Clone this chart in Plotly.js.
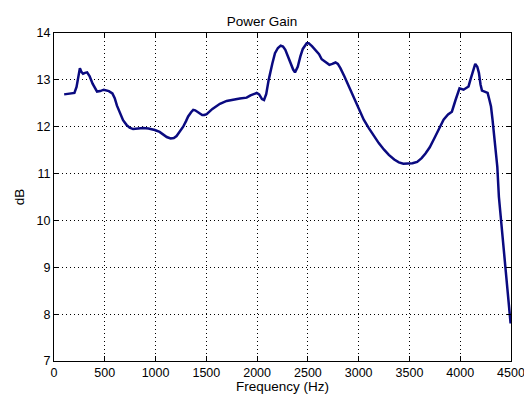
<!DOCTYPE html>
<html>
<head>
<meta charset="utf-8">
<script src="https://cdn.plot.ly/plotly-3.0.1.min.js"></script>
<style>html,body{margin:0;padding:0;background:#fff;}#chart{width:524px;height:394px;}</style>
</head>
<body>
<div id="chart"></div>
<script>
const freqHz = [100,150,201,222,240,255,270,286,305,326,350,380,424,455,490,520,540,575,598,620,648,680,714,745,779,830,878,930,993,1040,1075,1110,1148,1180,1207,1240,1272,1300,1321,1350,1371,1390,1410,1435,1459,1480,1503,1560,1634,1700,1765,1830,1897,1935,1996,2020,2048,2068,2090,2114,2150,2176,2205,2232,2255,2278,2300,2328,2355,2373,2400,2426,2450,2488,2508,2540,2574,2610,2636,2675,2712,2740,2772,2795,2820,2860,2910,2950,3001,3050,3100,3150,3198,3250,3297,3350,3396,3440,3487,3530,3576,3620,3658,3700,3754,3790,3836,3880,3918,3954,3993,4033,4082,4100,4115,4135,4148,4168,4184,4200,4214,4240,4270,4290,4303,4318,4330,4350,4365,4381,4400,4420,4445,4470,4496];
const gainDb = [12.69,12.70,12.72,12.85,13.10,13.25,13.17,13.13,13.15,13.16,13.08,12.92,12.75,12.76,12.79,12.78,12.76,12.71,12.61,12.45,12.29,12.14,12.04,11.98,11.95,11.96,11.97,11.96,11.93,11.89,11.83,11.78,11.75,11.76,11.80,11.90,12.00,12.12,12.22,12.31,12.36,12.35,12.32,12.27,12.25,12.25,12.27,12.38,12.49,12.55,12.58,12.60,12.62,12.67,12.72,12.69,12.59,12.57,12.70,13.00,13.35,13.57,13.68,13.73,13.71,13.64,13.52,13.36,13.22,13.16,13.28,13.50,13.66,13.78,13.78,13.72,13.64,13.55,13.44,13.38,13.32,13.34,13.37,13.34,13.25,13.07,12.82,12.61,12.36,12.15,11.97,11.80,11.65,11.51,11.40,11.30,11.24,11.21,11.21,11.22,11.25,11.33,11.43,11.56,11.79,11.96,12.15,12.26,12.32,12.57,12.82,12.79,12.86,13.00,13.11,13.27,13.34,13.28,13.15,12.90,12.77,12.75,12.72,12.55,12.43,12.15,11.86,11.45,11.15,10.50,10.05,9.58,9.00,8.40,7.80];
const xTicks = [0,500,1000,1500,2000,2500,3000,3500,4000,4500];
const yTicks = [7,8,9,10,11,12,13,14];

const tickFont = {family: 'Liberation Sans, Arial, sans-serif', size: 12.5, color: '#000'};
const titleFont = {family: 'Liberation Sans, Arial, sans-serif', size: 13.5, color: '#000'};
const axisCommon = {
  showline: true, linecolor: '#000', linewidth: 1, mirror: 'ticks',
  ticks: 'inside', ticklen: 5, tickcolor: '#000', tickwidth: 1,
  showgrid: true, gridcolor: '#000', gridwidth: 1, griddash: '1px,3px',
  zeroline: false, tickfont: tickFont, ticklabeloverflow: 'allow'
};
Plotly.newPlot('chart', [{
  x: freqHz, y: gainDb, type: 'scatter', mode: 'lines',
  line: {color: '#0a0a80', width: 2.5}
}], {
  width: 524, height: 394,
  margin: {l: 54, r: 13, t: 33, b: 33},
  paper_bgcolor: '#fff', plot_bgcolor: '#fff',
  showlegend: false,
  font: tickFont,
  title: {text: 'Power Gain', font: titleFont, x: 0.5, xanchor: 'center', yref: 'container', y: 1 - 21/394, yanchor: 'middle'},
  xaxis: Object.assign({}, axisCommon, {range: [0, 4500], tickvals: xTicks, ticktext: xTicks.map(String),
    title: {text: 'Frequency (Hz)', font: titleFont, standoff: 2}}),
  yaxis: Object.assign({}, axisCommon, {range: [7, 14], tickvals: yTicks, ticktext: yTicks.map(String),
    title: {text: 'dB', font: titleFont, standoff: 8}})
}, {staticPlot: true});
</script>
</body>
</html>
